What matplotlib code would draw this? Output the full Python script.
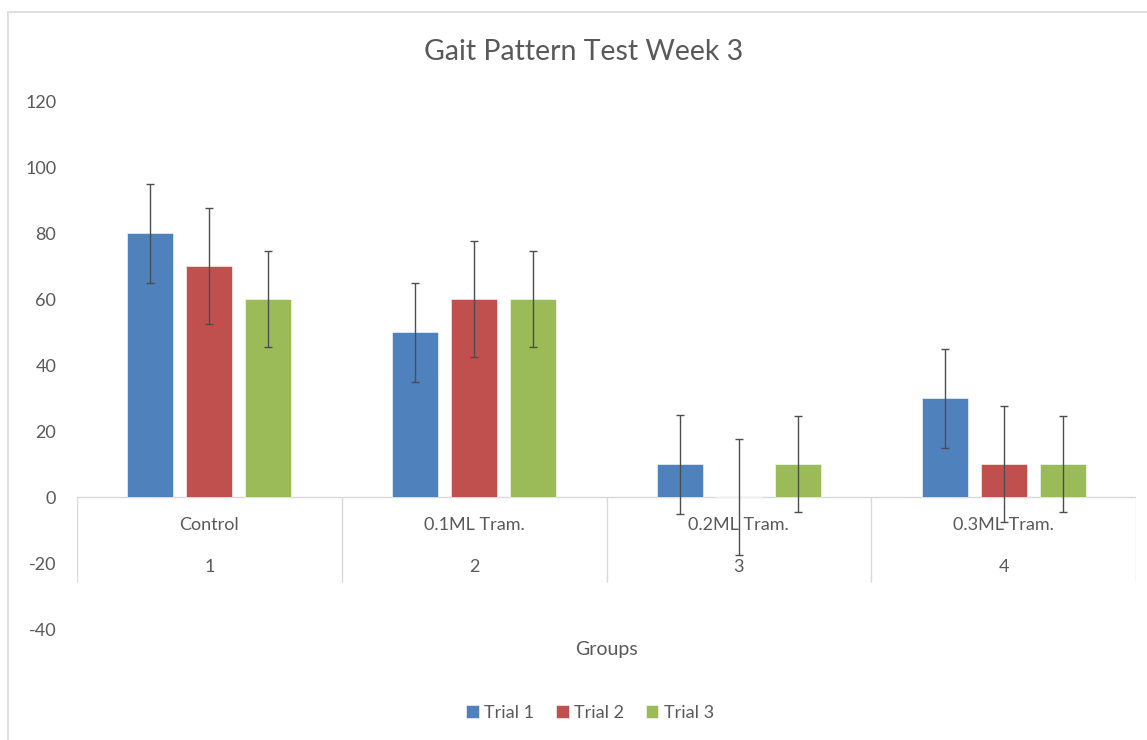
import matplotlib
matplotlib.use("Agg")
import matplotlib.pyplot as plt
from matplotlib.patches import Rectangle
import numpy as np

# chart data
groups = ["Control", "0.1ML Tram.", "0.2ML Tram.", "0.3ML Tram."]
group_nums = ["1", "2", "3", "4"]
trials = ["Trial 1", "Trial 2", "Trial 3"]
trial1 = [80, 50, 10, 30]
trial2 = [70, 60, 0, 10]
trial3 = [60, 60, 10, 10]
err1 = [15, 15, 15, 15]
err2 = [17.6, 17.6, 17.6, 17.6]
err3 = [14.4, 14.4, 14.4, 14.4]
yticks = [-40, -20, 0, 20, 40, 60, 80, 100, 120]

colors = ["#4F81BD", "#C0504D", "#9BBB59"]
grey = "#D9D9D9"
text_col = "#595959"

plt.rcParams['font.family'] = ['Lato', 'DejaVu Sans']
plt.rcParams['axes.unicode_minus'] = False

fig = plt.figure(figsize=(11.47, 7.40), dpi=100)
# outer chart border
fig.patches.append(Rectangle((8/1147, -0.5), 2, 0.5 + 1 - 12/740,
                             transform=fig.transFigure, fill=False,
                             edgecolor=grey, linewidth=1.2))

ax = fig.add_axes([77/1147, 1 - 629/740, (1136 - 77)/1147, (629 - 101)/740])

x = np.arange(len(groups))
step = 0.223
width = 0.174
series = [trial1, trial2, trial3]
errs = [err1, err2, err3]
for i in range(3):
    ax.bar(x + (i - 1)*step, series[i], width, color=colors[i],
           edgecolor="white", linewidth=0.4, label=trials[i], zorder=2)
    ax.errorbar(x + (i - 1)*step, series[i], yerr=errs[i], fmt="none",
                ecolor="#4D4D4D", elinewidth=1, capsize=3, capthick=1, zorder=3)

ax.set_xlim(-0.5, 3.5)
ax.set_ylim(-40, 120)
ax.set_yticks(yticks)
ax.set_xticks([])
ax.tick_params(axis="y", length=0, labelsize=13, labelcolor=text_col, pad=15)
for s in ax.spines.values():
    s.set_visible(False)

# multi-level category axis
ax.axhline(0, color=grey, linewidth=1, zorder=1)
ax.vlines(np.arange(-0.5, 4, 1), -25.8, 0, color=grey, linewidth=1, zorder=1)
for i in range(len(groups)):
    ax.text(x[i], -8.5, groups[i], ha="center", va="center", fontsize=13, color=text_col)
    ax.text(x[i], -21.2, group_nums[i], ha="center", va="center", fontsize=13, color=text_col)

fig.text(584/1147, 1 - 52/740, "Gait Pattern Test Week 3", ha="center", va="center",
         fontsize=20.5, color=text_col)
fig.text(606/1147, 1 - 649/740, "Groups", ha="center", va="center",
         fontsize=14, color=text_col)

leg = fig.legend(loc="center", bbox_to_anchor=(590/1147, 1 - 713/740), ncol=3,
                 frameon=False, fontsize=13, handlelength=0.7, handleheight=0.7,
                 handletextpad=0.3, columnspacing=1.2)
for t in leg.get_texts():
    t.set_color(text_col)

fig.savefig("out.png", dpi=100, facecolor="white")
